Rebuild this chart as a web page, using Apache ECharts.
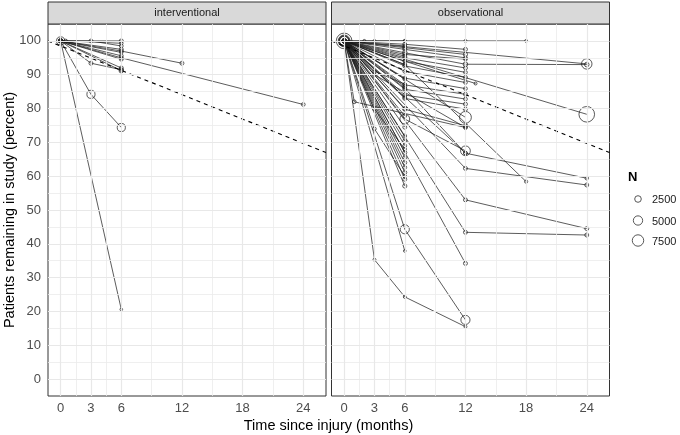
<!DOCTYPE html>
<html><head><meta charset="utf-8">
<script src="https://cdn.jsdelivr.net/npm/echarts@6/dist/echarts.min.js"></script>
<style>html,body{margin:0;padding:0;background:#fff}#c{width:680px;height:435px}</style>
</head><body><div id="c"></div>
<script>
// ---------- data ----------
const panelNames = ['interventional', 'observational'];
const xTicks = [0, 3, 6, 12, 18, 24];
const yTicks = [0, 10, 20, 30, 40, 50, 60, 70, 80, 90, 100];
const legendN = [2500, 5000, 7500];
const refLineT = [-1.25, 26.25];
const refLineV = [100, 67];

// interventional studies: time points (months), % remaining, N
const intTimes = [[0,6],[0,0.5,6],[0,3,6],[0,6],[0,6],[0,6],[0,6],[0,6,12],[0,6,24],[0,3,6],[0,3,6],[0,6],[0,6],[0,6]];
const intValues = [[100,100],[100,100,99.3],[100,100,98.5],[100,97.5],[100,96.6],[100,95.6],[100,94.6],[100,97,93.4],[100,95,81.2],[100,93.4,91.5],[100,84.2,74.4],[100,20.6],[100,92],[100,91.2]];
const intN = [900,700,800,900,700,800,900,900,800,900,3800,400,900,1200];

// observational studies
const obsTimes = [
  [0,6,12,18],[0,2,3,6],[0,24],[0,6,12,24],[0,24],[0,6,13],
  [0,6,12],[0,6,12],[0,6,12],[0,6,12],[0,6,12],[0,6,12],[0,6,12],[0,6,12],
  [0,6,12],[0,6,12],[0,6,12],[0,6,12],[0,6,12],[0,12],[0,6,12],[0,1,12],
  [0,6,12],[0,12,24],[0,6,18],[0,12,24],[0,12,24],[0,12],[0,6,12],[0,3,6,12],
  [0,6],[0,6],[0,6],[0,6],[0,6],[0,6],[0,6],[0,6],[0,6],[0,6],[0,6],
  [0,3,6],[0,6],[0,6],[0,6],[0,6],[0,6],[0,6],[0,6],[0,6],[0,6],
  [0,6,12],[0,12,24],[0,3,6],[0,3,6],[0,3,12]
];
const obsValues = [
  [100,100,100,100],[100,100,100,100],[100,93.2],[100,96.5,93.1,93],[100,78.3],[100,94,87.4],
  [100,99,97.5],[100,98,96],[100,97.5,95],[100,96,94.6],[100,95,92],[100,94,90.7],[100,92.6,89.2],[100,91,87.7],
  [100,89,85.9],[100,87,84.2],[100,85.7,82.8],[100,84,81.3],[100,83,79.8],[100,77.4],[100,79.8,74.9],[100,82,74.4],
  [100,76.9,67.5],[100,62.3,57.4],[100,93,58.4],[100,53,44.5],[100,43.4,42.6],[100,34.2],[100,44.3,17.5],[100,35.3,24.3,15.5],
  [100,37.9],[100,71.9],[100,70.4],[100,69],[100,67],[100,65.5],[100,64],[100,62.6],[100,61.1],[100,59.1],[100,57.1],
  [100,91,87.2],[100,88.7],[100,86.5],[100,83.3],[100,80],[100,77.8],[100,74.5],[100,98.5],[100,95.5],[100,93],
  [100,86,66.8],[100,66.8,59.4],[100,74,60],[100,79.8,68],[100,90,74.4]
];
const obsN = [
  500,500,6300,1200,14000,500,
  900,1000,900,800,900,800,900,800,
  800,900,800,900,900,8000,900,800,
  5500,900,600,900,900,900,4800,500,
  400,800,900,800,900,800,900,800,900,900,1000,
  600,800,900,800,900,800,900,800,900,800,
  900,700,700,700,700
];

// ---------- build ----------
const FONT = 'Liberation Sans, Arial, sans-serif';
function sz(n) { return Math.max(2.6, 0.132 * Math.sqrt(n)); }
const gridBoxes = [{left: 48, top: 24, width: 278, height: 372}, {left: 331.5, top: 24, width: 278, height: 372}];

function minorOf(arr, lo, hi) {
  const step0 = arr[1] - arr[0];
  const ext = [arr[0] - step0].concat(arr).concat([arr[arr.length - 1] + (arr[arr.length-1]-arr[arr.length-2])]);
  const out = [];
  for (let i = 0; i < ext.length - 1; i++) {
    const m = (ext[i] + ext[i + 1]) / 2;
    if (m > lo && m < hi) out.push(m);
  }
  return out;
}
const xMin = -1.25, xMax = 26.25, yMin = -5, yMax = 105;
const xMinor = minorOf(xTicks, xMin, xMax);
const yMinor = minorOf(yTicks, yMin, yMax);

const grids = [], xAxes = [], yAxes = [], series = [];
gridBoxes.forEach((g, i) => {
  grids.push(Object.assign({show: true, borderColor: '#333333', borderWidth: 1, backgroundColor: '#ffffff', containLabel: false}, g));
  xAxes.push({gridIndex: i, type: 'value', min: xMin, max: xMax,
    axisLine: {show: false},
    axisTick: {show: true, customValues: xTicks, length: 4, lineStyle: {color: '#333333', width: 1}},
    axisLabel: {customValues: xTicks, color: '#4d4d4d', fontSize: 13, fontFamily: FONT, margin: 6},
    splitLine: {show: false}});
  yAxes.push({gridIndex: i, type: 'value', min: yMin, max: yMax,
    axisLine: {show: false},
    axisTick: {show: i === 0, customValues: yTicks, length: 4, lineStyle: {color: '#333333', width: 1}},
    axisLabel: {show: i === 0, customValues: yTicks, color: '#4d4d4d', fontSize: 13, fontFamily: FONT, margin: 7},
    splitLine: {show: false}});
  const ml = [];
  xMinor.forEach(v => ml.push({xAxis: v, lineStyle: {color: '#ebebeb', width: 0.8, type: 'solid'}}));
  yMinor.forEach(v => ml.push({yAxis: v, lineStyle: {color: '#ebebeb', width: 0.8, type: 'solid'}}));
  xTicks.forEach(v => ml.push({xAxis: v, lineStyle: {color: '#e8e8e8', width: 1.2, type: 'solid'}}));
  yTicks.forEach(v => ml.push({yAxis: v, lineStyle: {color: '#e8e8e8', width: 1.2, type: 'solid'}}));
  series.push({type: 'line', xAxisIndex: i, yAxisIndex: i, data: [], z: 0, silent: true,
    markLine: {silent: true, symbol: ['none', 'none'], label: {show: false}, animation: false, data: ml}});
});

function addStudies(times, values, ns, idx) {
  times.forEach((t, k) => {
    series.push({type: 'line', xAxisIndex: idx, yAxisIndex: idx, z: 2, silent: true,
      data: t.map((x, j) => [x, values[k][j]]),
      symbol: 'circle', symbolSize: sz(ns[k]), showSymbol: true,
      lineStyle: {color: 'rgba(25,25,25,0.75)', width: 0.95},
      itemStyle: {color: 'rgba(0,0,0,0)', borderColor: 'rgba(25,25,25,0.8)', borderWidth: 0.9}});
  });
}
addStudies(intTimes, intValues, intN, 0);
addStudies(obsTimes, obsValues, obsN, 1);

[0, 1].forEach(i => {
  series.push({type: 'line', xAxisIndex: i, yAxisIndex: i, z: 3, silent: true,
    data: refLineT.map((x, j) => [x, refLineV[j]]), symbol: 'none', clip: true,
    lineStyle: {color: '#000', width: 1.1, type: [4, 4]}});
});

const graphic = [];
gridBoxes.forEach((g, i) => {
  graphic.push({type: 'rect', shape: {x: g.left, y: 2, width: g.width, height: 22},
    style: {fill: '#d9d9d9', stroke: '#333333', lineWidth: 1}, silent: true});
  graphic.push({type: 'text', x: g.left + g.width / 2, y: 13,
    style: {text: panelNames[i], fill: '#1a1a1a', fontSize: 11, fontFamily: FONT, align: 'center', verticalAlign: 'middle'}, silent: true});
});
graphic.push({type: 'text', x: 328.5, y: 426,
  style: {text: 'Time since injury (months)', fill: '#000', fontSize: 14.5, fontFamily: FONT, align: 'center', verticalAlign: 'middle'}});
graphic.push({type: 'text', x: 10, y: 210, rotation: Math.PI / 2,
  style: {text: 'Patients remaining in study (percent)', fill: '#000', fontSize: 14.5, fontFamily: FONT, align: 'center', verticalAlign: 'middle'}});
graphic.push({type: 'text', x: 628, y: 177,
  style: {text: 'N', fill: '#000', fontSize: 13, fontWeight: 'bold', fontFamily: FONT, align: 'left', verticalAlign: 'middle'}});
const legY = [199, 220.5, 240.5];
legendN.forEach((n, k) => {
  graphic.push({type: 'circle', shape: {cx: 638, cy: legY[k], r: sz(n) / 2},
    style: {fill: 'none', stroke: '#444', lineWidth: 0.9}});
  graphic.push({type: 'text', x: 652, y: legY[k] + 1,
    style: {text: String(n), fill: '#1a1a1a', fontSize: 11, fontFamily: FONT, align: 'left', verticalAlign: 'middle'}});
});

const chart = echarts.init(document.getElementById('c'), null, {renderer: 'canvas'});
chart.setOption({animation: false, grid: grids, xAxis: xAxes, yAxis: yAxes, series: series, graphic: graphic});
</script>
</body></html>
